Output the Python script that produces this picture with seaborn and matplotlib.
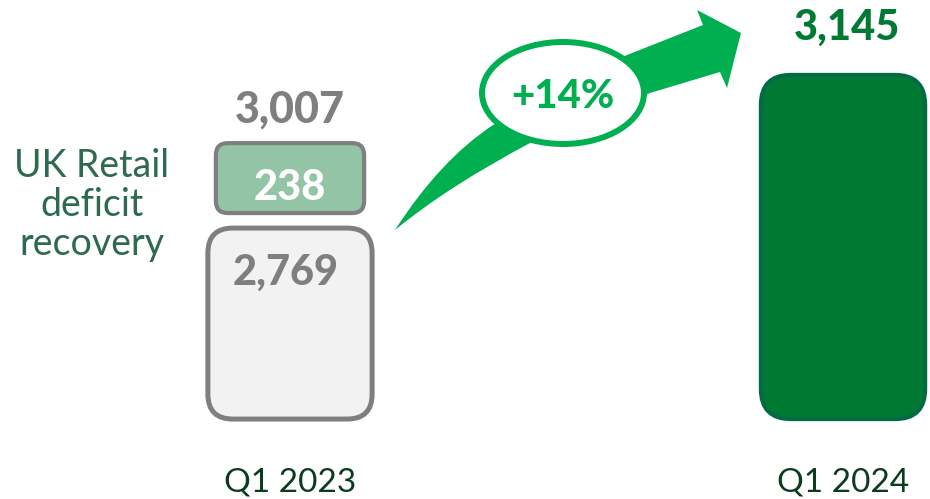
import matplotlib
matplotlib.use("Agg")
import matplotlib.pyplot as plt
import matplotlib.transforms as mtransforms
import pandas as pd
import seaborn as sns
from matplotlib.patches import FancyBboxPatch, Ellipse, PathPatch
from matplotlib.path import Path

# data
quarters = ["Q1 2023", "Q1 2024"]
core_values = [2769, 3145]
recovery_values = [238, 0]
total_labels = ["3,007", "3,145"]
core_label = "2,769"
recovery_text = "238"
growth_label = "+14%"
recovery_caption = "UK Retail\ndeficit\nrecovery"

GREY = "#7f7f7f"
LIGHT_GREY = "#f2f2f2"
PALE_GREEN = "#93c4a5"
DARK_GREEN = "#007a33"
DARK_EDGE = "#006b45"
ARROW_GREEN = "#00b050"
CAPTION_GREEN = "#2d6a4f"
TICK_GREEN = "#0d3b1e"
HEAVY = "black"

sns.set_theme(style="white")
plt.rcParams["font.family"] = ["Lato", "DejaVu Sans"]

W, H = 930, 499
fig = plt.figure(figsize=(W / 100, H / 100), dpi=100)
AX_BOTTOM = 0.13
ax = fig.add_axes([0, AX_BOTTOM, 1, 1 - AX_BOTTOM])

df = pd.DataFrame({"quarter": quarters, "core": core_values, "recovery": recovery_values})
df["total"] = df["core"] + df["recovery"]

sns.barplot(data=df, x="quarter", y="core", width=0.297, ax=ax)
XLIM = (-0.5244, 1.1573)
YLIM = (2263, 3329)
BASE = 2300
ax.set_xlim(*XLIM)
ax.set_ylim(*YLIM)

# data units per pixel, for rounded corners
xpp = (XLIM[1] - XLIM[0]) / W
ypp = (YLIM[1] - YLIM[0]) / (H * (1 - AX_BOTTOM))
aspect = ypp / xpp


def rounded_box(x0, y0, x1, y1, r_px, **kw):
    box = FancyBboxPatch((x0, y0), x1 - x0, y1 - y0,
                         boxstyle=f"round,pad=0,rounding_size={r_px * xpp}",
                         mutation_aspect=aspect, **kw)
    ax.add_patch(box)
    return box


bars = list(ax.patches)
for i, p in enumerate(bars):
    p.set_visible(False)
    x0, w, top = p.get_x(), p.get_width(), p.get_height()
    if i == 0:
        # core part of Q1 2023
        rounded_box(x0, BASE, x0 + w, top, 25, facecolor=LIGHT_GREY,
                    edgecolor=GREY, linewidth=3.6, zorder=3)
        # recovery segment stacked on top
        seg_top = top + df["recovery"][i]
        rounded_box(x0 + 8 * xpp, top + 15 * ypp, x0 + w - 8 * xpp, seg_top - 12 * ypp, 12,
                    facecolor=PALE_GREEN, edgecolor=GREY, linewidth=3.0, zorder=3)
    else:
        rounded_box(x0, BASE, x0 + w, top, 30, facecolor=DARK_GREEN,
                    edgecolor=DARK_EDGE, linewidth=3.0, zorder=3)

# value labels
ax.annotate(total_labels[0], (0, df["total"][0]), xytext=(0, 6.5), textcoords="offset points",
            ha="center", va="baseline", fontsize=31, fontweight=HEAVY, color=GREY)
ax.annotate(total_labels[1], (1, df["total"][1]), xytext=(3, 25), textcoords="offset points",
            ha="center", va="baseline", fontsize=30, fontweight=HEAVY, color=DARK_GREEN)
ax.annotate(core_label, (0, df["core"][0]), xytext=(-3, -41), textcoords="offset points",
            ha="center", va="baseline", fontsize=30, fontweight=HEAVY, color=GREY, zorder=4)
ax.annotate(recovery_text, (0, df["core"][0]), xytext=(0, 20), textcoords="offset points",
            ha="center", va="baseline", fontsize=30, fontweight=HEAVY, color="white", zorder=4)

# caption for the recovery segment
fig.text(92 / W, 1 - 205 / H, recovery_caption, ha="center", va="center",
         fontsize=27, color=CAPTION_GREEN, linespacing=1.12)

# growth arrow (pixel coords, origin top-left)
to_fig = mtransforms.Affine2D().scale(1 / W, -1 / H).translate(0, 1) + fig.transFigure
verts = [(395, 230), (450, 185), (532, 142), (650, 93), (720, 72), (727, 88), (741, 33),
         (697, 10), (703, 25), (627, 55), (493, 125), (440, 160), (395, 230), (0, 0)]
codes = [Path.MOVETO, Path.CURVE3, Path.CURVE3, Path.LINETO, Path.LINETO, Path.LINETO,
         Path.LINETO, Path.LINETO, Path.LINETO, Path.LINETO, Path.LINETO, Path.CURVE3,
         Path.CURVE3, Path.CLOSEPOLY]
fig.patches.append(PathPatch(Path(verts, codes), facecolor=ARROW_GREEN, edgecolor="none",
                             transform=to_fig, zorder=2))
fig.patches.append(Ellipse((563, 93), 162, 102, facecolor="white", edgecolor=ARROW_GREEN,
                           linewidth=4.3, transform=to_fig, zorder=3))
fig.text(563 / W, 1 - 108 / H, growth_label, ha="center", va="baseline",
         fontsize=29, fontweight=HEAVY, color=ARROW_GREEN, zorder=4)

# axes styling
sns.despine(ax=ax, left=True, bottom=True)
ax.set_xlabel("")
ax.set_ylabel("")
ax.set_yticks([])
ax.tick_params(axis="x", length=0, pad=24, labelsize=24, labelcolor=TICK_GREEN)
ax.patch.set_alpha(0)

fig.savefig("out.png", dpi=100)
